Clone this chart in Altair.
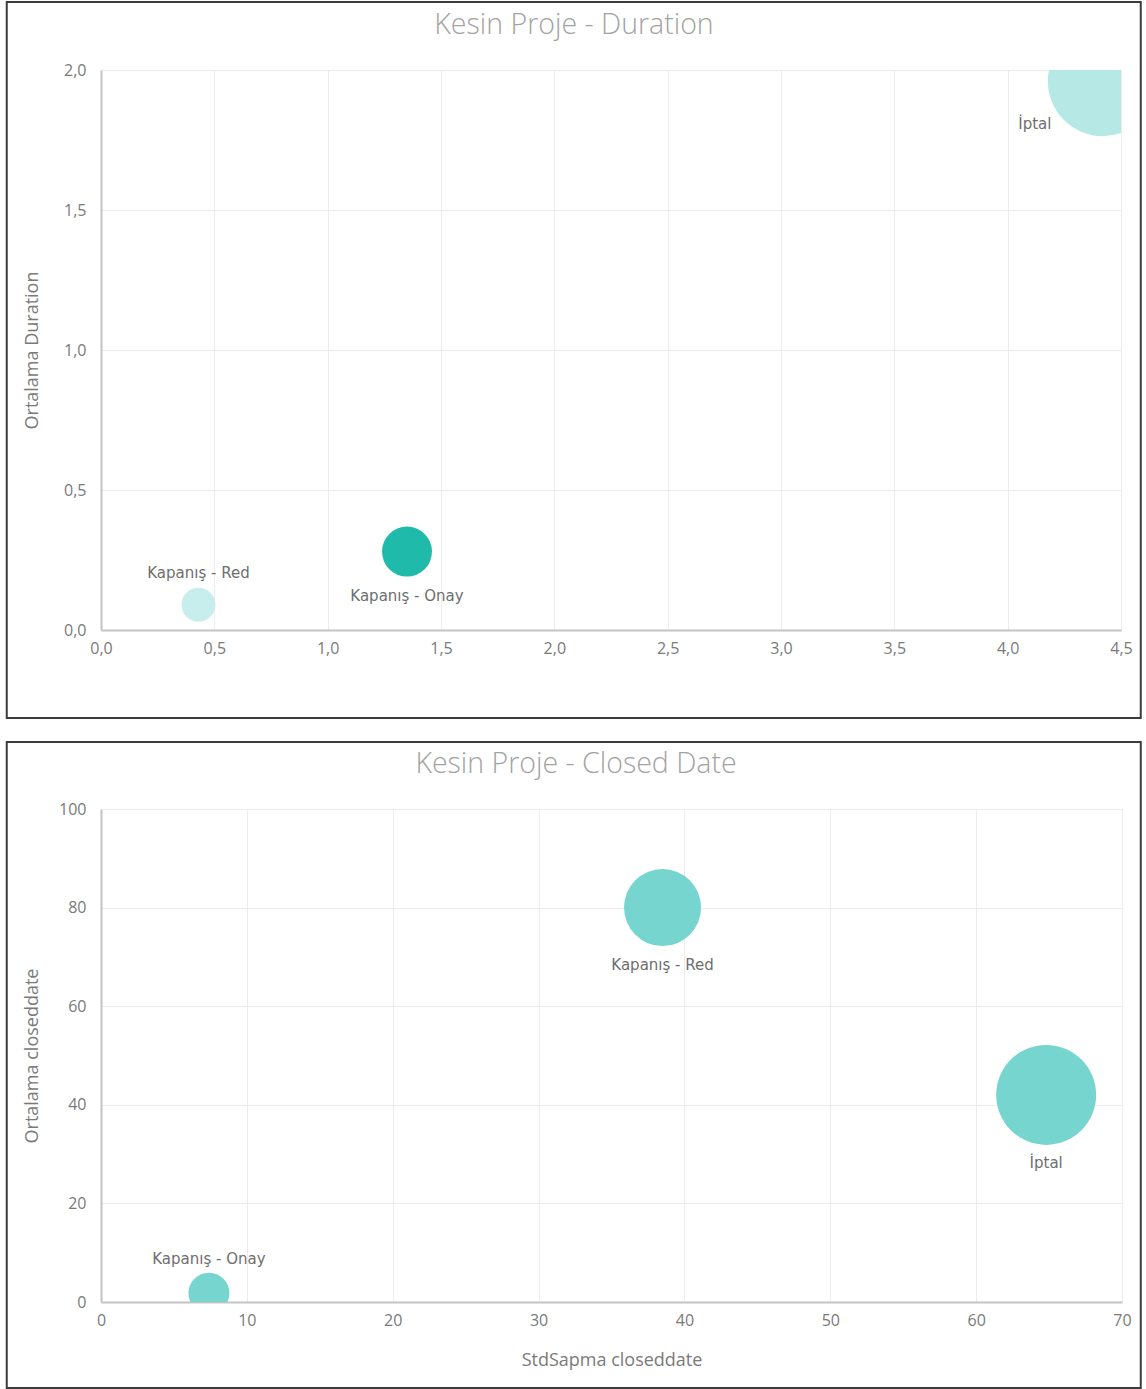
import altair as alt
import pandas as pd

# ---------------- data ----------------
# Panel 1: Kesin Proje - Duration
top_categories = ["Kapanış - Red", "Kapanış - Onay", "İptal"]
top_std = [0.43, 1.35, 4.42]          # x
top_avg = [0.09, 0.28, 1.96]          # Ortalama Duration
top_bubble = [9.1, 19.6, 95.0]        # bubble size value
top_colors = ["#c7eeec", "#1fbaa9", "#b6e9e5"]
top_xticks = [0.0, 0.5, 1.0, 1.5, 2.0, 2.5, 3.0, 3.5, 4.0, 4.5]
top_yticks = [0.0, 0.5, 1.0, 1.5, 2.0]

# Panel 2: Kesin Proje - Closed Date
bot_categories = ["Kapanış - Red", "İptal", "Kapanış - Onay"]
bot_std = [38.5, 64.8, 7.4]           # StdSapma closeddate
bot_avg = [80.0, 42.0, 1.8]           # Ortalama closeddate
bot_bubble = [46.6, 78.5, 13.2]
bot_colors = ["#76d6cf", "#76d6cf", "#76d6cf"]
bot_xticks = [0, 10, 20, 30, 40, 50, 60, 70]
bot_yticks = [0, 20, 40, 60, 80, 100]

# label offsets (style)
top_label_offsets = {"Kapanış - Red": (0, -32), "Kapanış - Onay": (0, 44), "İptal": (-68, 43)}
bot_label_offsets = {"Kapanış - Red": (0, 57), "İptal": (0, 68), "Kapanış - Onay": (0, -34)}

AXIS_FONT = "Open Sans"
LABEL_FONT = "DejaVu Sans"
TXT = "#7a7a7a"


def panel(cats, xs, ys, bubbles, colors, xdom, ydom, xticks, yticks, xtitle, ytitle,
          title, offsets, W, H, box, title_x, decimal):
    df = pd.DataFrame({"cat": cats, "x": xs, "y": ys, "b": bubbles})
    if decimal:
        lab = "replace(format(datum.value, '.1f'), '.', ',')"
    else:
        lab = "format(datum.value, 'd')"
    xaxis_kwargs = dict(values=xticks, labelExpr=lab, grid=True, ticks=False,
                        labelPadding=10, labelFontSize=16, labelColor=TXT,
                        labelFont=AXIS_FONT, domainColor="#c4c4c4", domainWidth=2,
                        gridColor="#ececec", labelFlush=False)
    if xtitle:
        xaxis = alt.Axis(title=xtitle, titleFont=AXIS_FONT, titleFontSize=18,
                         titleFontWeight="normal", titleColor=TXT, titleY=58,
                         titleBaseline="middle", **xaxis_kwargs)
    else:
        xaxis = alt.Axis(title=None, **xaxis_kwargs)
    yaxis = alt.Axis(values=yticks, labelExpr=lab, grid=True, ticks=False, title=ytitle,
                     labelPadding=15, labelFontSize=16, labelColor=TXT, labelFont=AXIS_FONT,
                     domainColor="#c4c4c4", domainWidth=2, gridColor="#ececec",
                     titleFont=AXIS_FONT, titleFontSize=18, titleFontWeight="normal",
                     titleColor=TXT, titleX=-69, titleY=H / 2, titleBaseline="middle",
                     titleAngle=270, labelFlush=False)

    base = alt.Chart(df)
    x = alt.X("x:Q", scale=alt.Scale(domain=xdom, nice=False, zero=False), axis=xaxis)
    y = alt.Y("y:Q", scale=alt.Scale(domain=ydom, nice=False, zero=False), axis=yaxis)

    border = alt.Chart(pd.DataFrame({"a": [0]})).mark_rect(
        fill="white", fillOpacity=0, stroke="#3c3c3c", strokeWidth=2, clip=False
    ).encode(x=alt.value(box[0]), x2=alt.value(box[1]), y=alt.value(box[2]), y2=alt.value(box[3]))

    pts = base.mark_circle(opacity=1, clip=True).encode(
        x=x, y=y,
        size=alt.Size("b:Q", scale=alt.Scale(domain=[0, 100], range=[0, 12732]), legend=None),
        color=alt.Color("cat:N", scale=alt.Scale(domain=cats, range=colors), legend=None),
    )

    labels = []
    for c in cats:
        dx, dy = offsets[c]
        labels.append(
            base.transform_filter(alt.datum.cat == c).mark_text(
                font=LABEL_FONT, fontSize=15, color="#6e6e6e", dx=dx, dy=dy,
                baseline="middle", align="center", clip=False
            ).encode(x=alt.X("x:Q"), y=alt.Y("y:Q"), text="cat:N")
        )

    ttl = alt.Chart(pd.DataFrame({"a": [0]})).mark_text(
        font="Open Sans", fontSize=28.5, fontWeight=300, color="#a3a3a3",
        baseline="middle", align="center", clip=False
    ).encode(x=alt.value(title_x), y=alt.value(-45), text=alt.value(title))

    return alt.layer(border, pts, *labels, ttl).properties(width=W, height=H)


top = panel(top_categories, top_std, top_avg, top_bubble, top_colors,
            [0, 4.5], [0, 2], top_xticks, top_yticks, None, "Ortalama Duration",
            "Kesin Proje - Duration", top_label_offsets, 1020, 560,
            (-94.25, 1039.75, -68, 648), 473, True)

bottom = panel(bot_categories, bot_std, bot_avg, bot_bubble, bot_colors,
               [0, 70], [0, 100], bot_xticks, bot_yticks, "StdSapma closeddate",
               "Ortalama closeddate", "Kesin Proje - Closed Date", bot_label_offsets,
               1021, 493, (-94.25, 1039.75, -67, 579), 475, False)

chart = alt.concat(top, bottom, columns=1, spacing=22).properties(
    padding={"left": 5, "top": 1, "right": 0, "bottom": 0},
    background="white",
).resolve_scale(color="independent", size="independent").configure_view(stroke=None)

chart.save("out.html", embed_options={"renderer": "svg", "actions": False})
